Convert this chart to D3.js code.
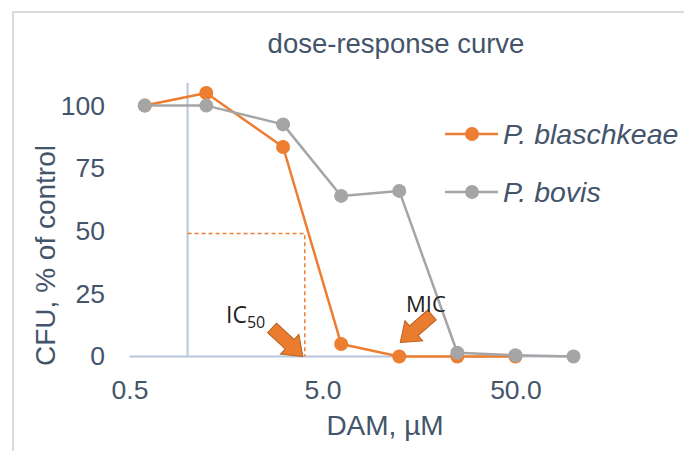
<!DOCTYPE html>
<html lang="en">
<head>
    <meta charset="UTF-8" />
    <title>dose-response curve</title>
    <script src="https://d3js.org/d3.v7.min.js"></script>
    <style>
        body { margin: 0; background: #fff; }
        svg text { font-family: "Liberation Sans", Arial, sans-serif; }
    </style>
</head>
<body>
<script>
    // doses (µM) and % of control
    var doses = [0.6, 1.25, 3.125, 6.25, 12.5, 25, 50, 100];
    var blaschkeae = [100, 105, 83.5, 5, 0, 0, 0];
    var bovis = [100, 100, 92.5, 64, 66, 1.5, 0.5, 0];
    var seriesNames = ["P. blaschkeae", "P. bovis"];
    var xTicks = [0.5, 5, 50];
    var yTicks = [0, 25, 50, 75, 100];
    var ic50 = [4.05, 49];   // dose, level
    var mic = 12.5;

    var w = 684, h = 451;
    var orange = "#ED7D31", grey = "#A5A5A5", ink = "#44546A", axisCol = "#B7C6DD";

    var xScale = d3.scaleLog().domain([0.5, 100]).range([129.5, 573.5]);
    var yScale = d3.scaleLinear().domain([0, 110]).range([356.5, 80.5]);

    var svg = d3.select("body").append("svg")
        .attr("width", w)
        .attr("height", h);

    // chart frame (cut off on the right / bottom)
    svg.append("path")
        .attr("d", "M13," + (h + 5) + "V12H" + (w + 5))
        .attr("fill", "none")
        .attr("stroke", "#D0D0D0")
        .attr("stroke-width", 1.5);

    // title
    svg.append("text")
        .attr("x", 396).attr("y", 53)
        .attr("text-anchor", "middle")
        .attr("font-size", "27.5px")
        .attr("fill", ink)
        .text("dose-response curve");

    // axis lines: y axis crosses at 1 µM
    svg.append("line")
        .attr("x1", xScale(0.5)).attr("x2", xScale(100))
        .attr("y1", yScale(0)).attr("y2", yScale(0))
        .attr("stroke", axisCol).attr("stroke-width", 2);
    svg.append("line")
        .attr("x1", xScale(1)).attr("x2", xScale(1))
        .attr("y1", yScale(0)).attr("y2", yScale(109))
        .attr("stroke", axisCol).attr("stroke-width", 2);

    var xAxis = d3.axisBottom(xScale).tickValues(xTicks).tickSize(0).tickPadding(24).tickFormat(d3.format(".1f"));
    var yAxis = d3.axisLeft(yScale).tickValues(yTicks).tickSize(0).tickPadding(0);

    svg.append("g").attr("class", "x axis")
        .attr("transform", "translate(0," + yScale(0) + ")")
        .call(xAxis);
    svg.append("g").attr("class", "y axis")
        .attr("transform", "translate(105,0)")
        .call(yAxis);

    svg.selectAll(".axis .domain").remove();
    svg.selectAll(".axis text")
        .style("font-family", '"Liberation Sans", Arial, sans-serif')
        .style("font-size", "26.5px")
        .attr("fill", ink);

    // axis titles
    svg.append("text")
        .attr("x", 385).attr("y", 435)
        .attr("text-anchor", "middle")
        .attr("font-size", "28px")
        .attr("fill", ink)
        .text("DAM, µM");
    svg.append("text")
        .attr("transform", "translate(55,255.5) rotate(-90)")
        .attr("text-anchor", "middle")
        .attr("font-size", "28px")
        .attr("fill", ink)
        .text("CFU, % of control");

    // IC50 guide lines
    svg.append("path")
        .attr("d", "M" + xScale(1) + "," + yScale(ic50[1]) + "H" + xScale(ic50[0]) + "V" + yScale(0))
        .attr("fill", "none")
        .attr("stroke", orange)
        .attr("stroke-width", 1.5)
        .attr("stroke-dasharray", "4,3");

    var line = d3.line()
        .x(function (d) { return xScale(d[0]); })
        .y(function (d) { return yScale(d[1]); });

    var series = [
        { name: seriesNames[0], color: orange, values: blaschkeae.map(function (v, i) { return [doses[i], v]; }) },
        { name: seriesNames[1], color: grey, values: bovis.map(function (v, i) { return [doses[i], v]; }) }
    ];

    series.forEach(function (s) {
        svg.append("path")
            .datum(s.values)
            .attr("d", line)
            .attr("fill", "none")
            .attr("stroke", s.color)
            .attr("stroke-width", 2.5)
            .attr("stroke-linejoin", "round");
        svg.selectAll(null)
            .data(s.values)
            .enter()
            .append("circle")
            .attr("cx", function (d) { return xScale(d[0]); })
            .attr("cy", function (d) { return yScale(d[1]); })
            .attr("r", 7)
            .attr("fill", s.color);
    });

    // legend
    series.forEach(function (s, i) {
        var ly = 134 + i * 58;
        svg.append("line")
            .attr("x1", 445).attr("x2", 498)
            .attr("y1", ly).attr("y2", ly)
            .attr("stroke", s.color).attr("stroke-width", 2.5);
        svg.append("circle")
            .attr("cx", 472).attr("cy", ly).attr("r", 7)
            .attr("fill", s.color);
        svg.append("text")
            .attr("x", 503).attr("y", ly + 10)
            .attr("font-size", "28.5px")
            .attr("font-style", "italic")
            .attr("fill", ink)
            .text(s.name);
    });

    // block arrows (tip at 0,0 pointing along +x)
    function blockArrow(tx, ty, angle) {
        var L = 42, hl = 18, hw = 27, sw = 13;
        var pts = [[0, 0], [-hl, hw / 2], [-hl, sw / 2], [-L, sw / 2], [-L, -sw / 2], [-hl, -sw / 2], [-hl, -hw / 2]];
        svg.append("polygon")
            .attr("points", pts.map(function (p) { return p.join(","); }).join(" "))
            .attr("transform", "translate(" + tx + "," + ty + ") rotate(" + angle + ")")
            .attr("fill", "#E97C2E")
            .attr("stroke", "#B9601F")
            .attr("stroke-width", 1);
    }
    blockArrow(xScale(ic50[0]) - 2, yScale(0), 43);
    blockArrow(xScale(mic) + 1, yScale(0) - 14, 139);

    // annotation labels
    var ic = svg.append("text")
        .attr("x", 226).attr("y", 323)
        .attr("fill", "#222")
        .style("font-family", '"Open Sans", sans-serif')
        .style("font-size", "23px");
    ic.append("tspan").text("IC");
    ic.append("tspan").attr("dy", 5).style("font-size", "16px").text("50");

    svg.append("text")
        .attr("x", 406).attr("y", 312)
        .attr("fill", "#222")
        .style("font-family", '"Open Sans", sans-serif')
        .style("font-size", "22px")
        .text("MIC");
</script>
</body>
</html>
